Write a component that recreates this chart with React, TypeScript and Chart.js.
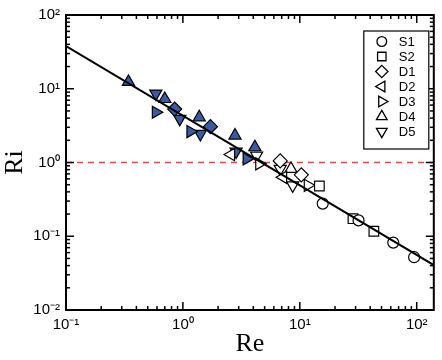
import React, { useEffect, useRef } from 'react';
import { Chart, registerables } from 'chart.js';
import { drawPoint } from 'chart.js/helpers';

Chart.register(...registerables);

// ---- data ----
const X_MIN = 0.1;
const X_MAX = 140;
const Y_MIN = 0.01;
const Y_MAX = 100;

const S1_RE = [15.7, 31.8, 63, 95];
const S1_RI = [0.277, 0.164, 0.082, 0.052];
const S1_FILLED = [0, 0, 0, 0];

const S2_RE = [14.7, 28.5, 43];
const S2_RI = [0.48, 0.173, 0.117];
const S2_FILLED = [0, 0, 0];

const D1_RE = [0.85, 1.72, 6.8, 10.3];
const D1_RI = [5.3, 3.06, 1.05, 0.68];
const D1_FILLED = [1, 1, 0, 0];

const D2_RE = [2.58, 7.2];
const D2_RI = [1.28, 0.63];
const D2_FILLED = [0, 0];

const D3_RE = [0.587, 1.16, 3.51, 4.5, 11.7];
const D3_RI = [4.8, 2.63, 1.12, 0.96, 0.49];
const D3_FILLED = [1, 1, 1, 0, 0];

const D4_RE = [0.342, 0.7, 1.38, 2.79, 4.13, 8.4];
const D4_RI = [12.4, 7.26, 4.1, 2.32, 1.61, 0.82];
const D4_FILLED = [1, 1, 1, 1, 1, 0];

const D5_RE = [0.587, 0.94, 1.41, 2.85, 4.27, 6.8, 8.7];
const D5_RI = [8.6, 3.9, 2.44, 1.41, 1.24, 0.82, 0.49];
const D5_FILLED = [1, 1, 1, 1, 0, 0, 0];

const FIT_RE = [0.1, 140];
const FIT_RI = [38, 0.0406];

const REF_RE = [0.1, 140];
const REF_RI = [1, 1];

const SERIES_LABELS = ['S1', 'S2', 'D1', 'D2', 'D3', 'D4', 'D5'];

// ---- styles ----
const BLUE = '#3a5aa6';
const SANS = '"Liberation Sans", Arial, sans-serif';
const SERIF = '"Liberation Serif", "DejaVu Serif", serif';

const SUP: Record<string, string> = {
  '-': '\u207B', '0': '\u2070', '1': '\u00B9', '2': '\u00B2', '3': '\u00B3',
  '4': '\u2074', '5': '\u2075', '6': '\u2076', '7': '\u2077', '8': '\u2078', '9': '\u2079',
};
const powLabel = (v: number) => {
  const e = Math.log10(v);
  if (Math.abs(e - Math.round(e)) > 1e-6) return '';
  return '10' + String(Math.round(e)).split('').map((c) => SUP[c]).join('');
};

const MARKERS: { style: string; rotation: number; radius: number }[] = [
  { style: 'circle', rotation: 0, radius: 5.5 },
  { style: 'rect', rotation: 0, radius: 6.8 },
  { style: 'rectRot', rotation: 0, radius: 7 },
  { style: 'triangle', rotation: -90, radius: 7 },
  { style: 'triangle', rotation: 90, radius: 7 },
  { style: 'triangle', rotation: 0, radius: 7 },
  { style: 'triangle', rotation: 180, radius: 7 },
];

const framePlugin = {
  id: 'frame',
  afterDatasetsDraw(chart: any) {
    const { ctx, chartArea: a, scales } = chart;
    const x = scales.x;
    const y = scales.y;
    ctx.save();
    ctx.strokeStyle = '#000';
    ctx.lineWidth = 1.5;
    const seg = (x1: number, y1: number, x2: number, y2: number) => {
      ctx.beginPath();
      ctx.moveTo(x1, y1);
      ctx.lineTo(x2, y2);
      ctx.stroke();
    };
    for (let e = -3; e <= 3; e++) {
      for (let m = 1; m <= 9; m++) {
        const v = m * Math.pow(10, e);
        const len = m === 1 ? 8 : 4;
        if (v >= X_MIN * 0.999 && v <= X_MAX) {
          const px = x.getPixelForValue(v);
          seg(px, a.bottom, px, a.bottom - len);
          seg(px, a.top, px, a.top + len);
        }
        if (v >= Y_MIN * 0.999 && v <= Y_MAX * 1.001) {
          const py = y.getPixelForValue(v);
          seg(a.left, py, a.left + len, py);
          seg(a.right, py, a.right - len, py);
        }
      }
    }
    ctx.lineWidth = 2;
    ctx.strokeRect(a.left, a.top, a.right - a.left, a.bottom - a.top);
    ctx.restore();
  },
};

const legendPlugin = {
  id: 'boxLegend',
  afterDraw(chart: any) {
    const { ctx, chartArea: a } = chart;
    const bx = a.right - 70;
    const by = a.top + 16;
    const bw = 65;
    const bh = 118;
    ctx.save();
    ctx.fillStyle = '#fff';
    ctx.fillRect(bx, by, bw, bh);
    ctx.strokeStyle = '#000';
    ctx.lineWidth = 1.2;
    ctx.strokeRect(bx, by, bw, bh);
    ctx.font = '13px ' + SANS;
    ctx.textBaseline = 'middle';
    ctx.textAlign = 'left';
    SERIES_LABELS.forEach((lab, i) => {
      const cy = by + 10.5 + i * 15;
      const mk = MARKERS[i];
      ctx.fillStyle = '#fff';
      ctx.strokeStyle = '#000';
      ctx.lineWidth = 1.3;
      drawPoint(ctx, { pointStyle: mk.style as any, rotation: mk.rotation, radius: mk.radius * 0.88, borderWidth: 1.3 }, bx + 18, cy);
      ctx.fillStyle = '#000';
      ctx.fillText(lab, bx + 35, cy + 1);
    });
    ctx.restore();
  },
};

export default function App() {
  const ref = useRef<HTMLCanvasElement>(null);
  useEffect(() => {
    const canvas = ref.current!;
    const series = [
      [S1_RE, S1_RI, S1_FILLED],
      [S2_RE, S2_RI, S2_FILLED],
      [D1_RE, D1_RI, D1_FILLED],
      [D2_RE, D2_RI, D2_FILLED],
      [D3_RE, D3_RI, D3_FILLED],
      [D4_RE, D4_RI, D4_FILLED],
      [D5_RE, D5_RI, D5_FILLED],
    ];
    const markerSets = series.map(([re, ri, filled], i) => ({
      label: SERIES_LABELS[i],
      data: (re as number[]).map((v, k) => ({ x: v, y: (ri as number[])[k] })),
      showLine: false,
      pointStyle: MARKERS[i].style,
      pointRotation: MARKERS[i].rotation,
      pointRadius: MARKERS[i].radius,
      pointHoverRadius: MARKERS[i].radius,
      pointBackgroundColor: (filled as number[]).map((f) => (f ? BLUE : '#fff')),
      pointBorderColor: '#000',
      pointBorderWidth: 1.2,
      order: 2,
    }));
    const chart = new Chart(canvas, {
      type: 'scatter',
      data: {
        datasets: [
          {
            label: 'Ri = 1',
            data: REF_RE.map((v, k) => ({ x: v, y: REF_RI[k] })),
            showLine: true,
            borderColor: '#ff3b3b',
            borderWidth: 1.5,
            borderDash: [6, 5],
            pointRadius: 0,
            order: 3,
          },
          ...markerSets,
          {
            label: 'fit',
            data: FIT_RE.map((v, k) => ({ x: v, y: FIT_RI[k] })),
            showLine: true,
            borderColor: '#000',
            borderWidth: 2,
            pointRadius: 0,
            order: 0,
          },
        ] as any,
      },
      options: {
        animation: false,
        responsive: false,
        devicePixelRatio: 1,
        layout: { padding: { top: 14, right: 5, left: 0, bottom: 0 } },
        plugins: {
          legend: { display: false },
          tooltip: { enabled: false },
        },
        scales: {
          x: {
            type: 'logarithmic',
            min: X_MIN,
            max: X_MAX,
            position: 'bottom',
            grid: { display: false, drawTicks: false },
            border: { display: false },
            ticks: {
              autoSkip: false,
              maxRotation: 0,
              minRotation: 0,
              padding: 6,
              color: '#000',
              font: { family: SANS, size: 15 },
              callback: (v: any) => powLabel(Number(v)),
            },
            title: {
              display: true,
              text: 'Re',
              color: '#000',
              font: { family: SERIF, size: 26 },
              padding: { top: 0, bottom: 0 },
            },
            afterFit: (s: any) => {
              s.height = 50;
            },
          },
          y: {
            type: 'logarithmic',
            min: Y_MIN,
            max: Y_MAX,
            grid: { display: false, drawTicks: false },
            border: { display: false },
            ticks: {
              autoSkip: false,
              padding: 6,
              color: '#000',
              font: { family: SANS, size: 15 },
              callback: (v: any) => powLabel(Number(v)),
            },
            title: {
              display: true,
              text: 'Ri',
              color: '#000',
              font: { family: SERIF, size: 26 },
              padding: { top: 0, bottom: 0 },
            },
            afterFit: (s: any) => {
              s.width = 66;
            },
          },
        },
      } as any,
      plugins: [framePlugin, legendPlugin],
    });
    return () => chart.destroy();
  }, []);
  return (
    <div style={{ position: 'absolute', left: 0, top: 0, width: 442, height: 360, background: '#fff' }}>
      <canvas ref={ref} width={442} height={360} />
    </div>
  );
}
